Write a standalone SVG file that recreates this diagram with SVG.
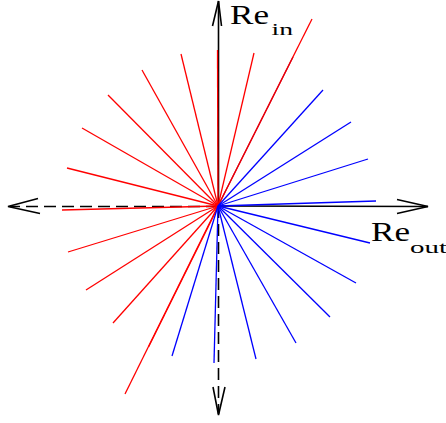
<svg xmlns="http://www.w3.org/2000/svg" width="446" height="423" viewBox="0 0 446 423">
<style>
.r{stroke:#ff0000;stroke-width:1.3;fill:none}
.b{stroke:#0000ff;stroke-width:1.3;fill:none}
.ax{stroke:#000;stroke-width:1.6;fill:none}
.dash{stroke-dasharray:12 6}
.lbl{font-family:"Liberation Serif",serif;fill:#000}
</style>
<rect width="446" height="423" fill="#fff"/>
<g id="axes">
<line class="ax" x1="218.5" y1="206" x2="218.5" y2="1"/>
<polyline class="ax" points="212.5,26 218.5,1 221.5,26"/>
<line class="ax" x1="218.5" y1="206" x2="428" y2="206.5"/>
<polyline class="ax" points="397,199.5 428,206.5 397,213.5"/>
<line class="ax dash" x1="218" y1="206.5" x2="10" y2="206.5"/>
<polyline class="ax" points="38,198.5 8,206.5 40,213.5"/>
<line class="ax dash" x1="218.5" y1="206" x2="218.5" y2="414"/>
<polyline class="ax" points="213,387 218.5,415 225,387"/>
</g>
<g id="red-lines">
<line class="r" x1="218" y1="206" x2="217.5" y2="50"/>
<line class="r" x1="218" y1="206" x2="254" y2="53"/>
<line class="r" x1="218" y1="206" x2="312" y2="19"/>
<line class="r" x1="218" y1="206" x2="293" y2="57" style="stroke:#e00010"/>
<line class="r" x1="218" y1="206" x2="181" y2="54"/>
<line class="r" x1="218" y1="206" x2="142" y2="70"/>
<line class="r" x1="218" y1="206" x2="108" y2="95"/>
<line class="r" x1="218" y1="206" x2="82" y2="128"/>
<line class="r" x1="218" y1="206" x2="67" y2="168"/>
<line class="r" x1="218" y1="206" x2="62" y2="210"/>
<line class="r" x1="218" y1="206" x2="68" y2="252"/>
<line class="r" x1="218" y1="206" x2="86" y2="290"/>
<line class="r" x1="218" y1="206" x2="113" y2="323"/>
<line class="r" x1="218" y1="206" x2="125" y2="394"/>
<line class="r" x1="218.5" y1="206" x2="148.5" y2="347"/>
</g>
<g id="blue-lines">
<line class="b" x1="218" y1="206" x2="323" y2="90"/>
<line class="b" x1="218" y1="206" x2="351" y2="122"/>
<line class="b" x1="218" y1="206" x2="368" y2="159"/>
<line class="b" x1="218" y1="206" x2="376" y2="201"/>
<line class="b" x1="218" y1="206" x2="370" y2="243"/>
<line class="b" x1="218" y1="206" x2="356" y2="283"/>
<line class="b" x1="218" y1="206" x2="330" y2="317"/>
<line class="b" x1="218" y1="206" x2="296" y2="343"/>
<line class="b" x1="218" y1="206" x2="256" y2="359"/>
<line class="b" x1="218" y1="206" x2="214" y2="363"/>
<line class="b" x1="218" y1="206" x2="172" y2="356"/>
</g>
<g id="label-in">
<text class="lbl" x="230" y="23.5" font-size="27" textLength="39" lengthAdjust="spacingAndGlyphs">Re</text>
<text class="lbl" x="271.5" y="34.5" font-size="17" textLength="21.5" lengthAdjust="spacingAndGlyphs">in</text>
</g>
<g id="label-out">
<text class="lbl" x="371" y="241" font-size="27" textLength="39" lengthAdjust="spacingAndGlyphs">Re</text>
<text class="lbl" x="410" y="252.5" font-size="17" textLength="37" lengthAdjust="spacingAndGlyphs">out</text>
</g>
</svg>
